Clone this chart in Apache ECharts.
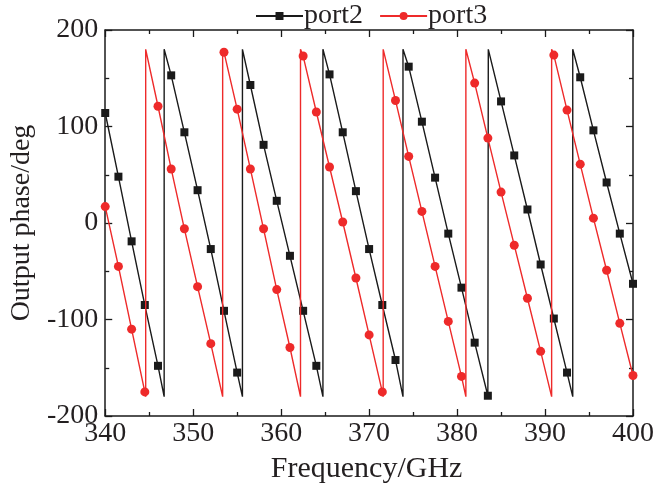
<!DOCTYPE html>
<html>
<head>
<meta charset="utf-8">
<script src="https://cdn.jsdelivr.net/npm/echarts@6/dist/echarts.min.js"></script>
<style>
html,body{margin:0;padding:0;background:#fff;}
#c{width:657px;height:489px;}
</style>
</head>
<body>
<div id="c"></div>
<script>
const freqs = [340,341.5,343,344.5,346,347.5,349,350.5,352,353.5,355,356.5,358,359.5,361,362.5,364,365.5,367,368.5,370,371.5,373,374.5,376,377.5,379,380.5,382,383.5,385,386.5,388,389.5,391,392.5,394,395.5,397,398.5,400];
const port2 = [114,48,-19,-85,-148,153,94,34,-27,-91,-155,143,81,23,-34,-91,-148,154,94,33,-27,-85,-142,162,105,47,-11,-67,-124,-179,126,70,14,-43,-99,-155,151,96,42,-11,-63];
const port3 = [17,-45,-110,-175,121,56,-6,-66,-125,177,118,56,-6,-69,-129,173,115,58,1,-57,-116,-175,127,69,12,-45,-102,-159,145,88,32,-23,-78,-133,174,117,61,5,-49,-104,-158];
const port2Wraps = [346.7,355.6,364.75,373.85,383.55,393.15];
const port3Wraps = [344.6,353.35,362.2,371.6,381.0,390.75];
const wrapLow = -180, wrapHigh = 180;
const xTicks = {min:340,max:400,interval:10};
const yTicks = {min:-200,max:200,interval:100};

function build(vals, wraps){
  const out = [];
  let w = 0;
  for (let i = 0; i < freqs.length; i++) {
    while (w < wraps.length && wraps[w] < freqs[i]) {
      out.push({value:[wraps[w], wrapLow], symbol:'none'});
      out.push({value:[wraps[w], wrapHigh], symbol:'none'});
      w++;
    }
    out.push({value:[freqs[i], vals[i]]});
  }
  return out;
}

const FONT = 'Liberation Serif';
const TXT = '#231f20';
const chart = echarts.init(document.getElementById('c'), null, {renderer:'canvas'});
const axisCommon = {
  axisLine:{show:true, onZero:false, lineStyle:{color:'#1a1a1a', width:1.5}},
  axisTick:{show:true, inside:true, length:7, lineStyle:{color:'#1a1a1a', width:1.3}},
  minorTick:{show:true, splitNumber:2, length:4, lineStyle:{color:'#1a1a1a', width:1.3}},
  splitLine:{show:false}
};
chart.setOption({
  animation:false,
  backgroundColor:'#fff',
  legend:{
    top:2, left:255, padding:0, itemGap:16, itemWidth:47, itemHeight:10,
    textStyle:{fontFamily:FONT, fontSize:28, color:TXT, padding:[0,0,0,-4]},
    data:['port2','port3']
  },
  grid:{left:103.5, right:21.5, top:30, bottom:70, containLabel:false},
  xAxis:[
    Object.assign({type:'value', position:'bottom', min:xTicks.min, max:xTicks.max, interval:xTicks.interval,
      name:'Frequency/GHz', nameLocation:'middle', nameGap:38,
      nameTextStyle:{fontFamily:FONT, fontSize:30, color:TXT, padding:[0,5,0,0]},
      axisLabel:{fontFamily:FONT, fontSize:28, color:TXT, margin:4}}, axisCommon),
    Object.assign({type:'value', position:'top', min:xTicks.min, max:xTicks.max, interval:xTicks.interval,
      axisLabel:{show:false}}, axisCommon)
  ],
  yAxis:[
    Object.assign({type:'value', position:'left', min:yTicks.min, max:yTicks.max, interval:yTicks.interval,
      name:'Output phase/deg', nameLocation:'middle', nameGap:61,
      nameTextStyle:{fontFamily:FONT, fontSize:28, color:TXT},
      axisLabel:{fontFamily:FONT, fontSize:28, color:TXT, margin:7}}, axisCommon),
    Object.assign({type:'value', position:'right', min:yTicks.min, max:yTicks.max, interval:yTicks.interval,
      axisLabel:{show:false}}, axisCommon)
  ],
  series:[
    {name:'port2', type:'line', xAxisIndex:0, yAxisIndex:0, data:build(port2, port2Wraps),
      symbol:'rect', symbolSize:8, showAllSymbol:true, color:'#1a1a1a',
      lineStyle:{color:'#1a1a1a', width:1.4}, itemStyle:{color:'#1a1a1a'}, z:2},
    {name:'port3', type:'line', xAxisIndex:0, yAxisIndex:0, data:build(port3, port3Wraps),
      symbol:'circle', symbolSize:9, showAllSymbol:true, color:'#ee2a2a',
      lineStyle:{color:'#ee2a2a', width:1.4}, itemStyle:{color:'#ee2a2a'}, z:3}
  ]
});
</script>
</body>
</html>
